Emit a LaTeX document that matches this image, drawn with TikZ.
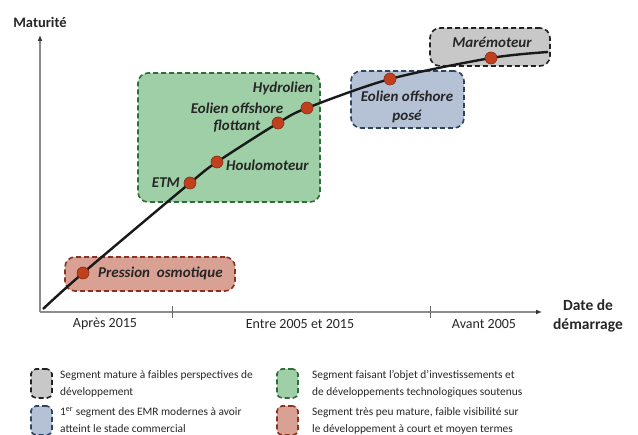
\documentclass[tikz,border=0pt]{standalone}
\usepackage{fontspec}
\setmainfont{Carlito}
\usetikzlibrary{arrows.meta}

\definecolor{segGray}{HTML}{C8C8C8}
\definecolor{segGrayLine}{HTML}{222222}
\definecolor{segGreen}{HTML}{9FCFA6}
\definecolor{segGreenLine}{HTML}{2E6E38}
\definecolor{segBlue}{HTML}{B5C1D5}
\definecolor{segBlueLine}{HTML}{2C4565}
\definecolor{segRed}{HTML}{D9A193}
\definecolor{segRedLine}{HTML}{8A3224}
\definecolor{dotRed}{HTML}{C0401E}

\begin{document}
\begin{tikzpicture}[
  x=1pt, y=-1pt,
  segbox/.style={rounded corners=10pt, line width=1.6pt, dash pattern=on 5pt off 3pt, inner sep=0pt},
  legbox/.style={segbox, rounded corners=5pt, minimum width=21pt, minimum height=29pt},
  axis/.style={line width=1.3pt, draw=black!45, -{Latex[length=6pt,width=5pt,color=black!80]}},
  dot/.style={circle, fill=dotRed, draw=dotRed!70!black, line width=0.6pt, minimum size=12pt, inner sep=0pt},
  tech/.style={font=\fontsize{15}{17}\selectfont\bfseries\itshape, text=black!85, inner sep=0pt, align=center},
  period/.style={font=\fontsize{14}{16}\selectfont, text=black!85, inner sep=0pt},
  legtext/.style={font=\fontsize{11.4}{17}\selectfont, text=black!85, anchor=west, align=left, inner sep=0pt},
]
  \useasboundingbox (0,0) rectangle (638,435);

  \node[segbox, fill=segGreen, draw=segGreenLine, minimum width=182pt, minimum height=129pt] (green) at (229,137.5) {};
  \node[segbox, fill=segBlue, draw=segBlueLine, minimum width=113pt, minimum height=57pt] (blue) at (407.5,99.5) {};
  \node[segbox, fill=segGray, draw=segGrayLine, minimum width=120pt, minimum height=38pt] (grey) at (490,47) {};
  \node[segbox, fill=segRed, draw=segRedLine, minimum width=170pt, minimum height=34pt] (red) at (150,274) {};

  \coordinate (origin) at (40,312);
  \coordinate (ytop) at (40,35);
  \coordinate (xend) at (542,312);
  \draw[axis] (origin) -- (ytop);
  \draw[axis] (origin) -- (xend);
  \draw[line width=1pt, black!60] (172,306) -- (172,318);
  \draw[line width=1pt, black!60] (430,306) -- (430,318);

  \node[font=\fontsize{14.5}{15}\selectfont\bfseries, text=black!85] (maturite) at (40,22) {Maturité};
  \node[font=\fontsize{15.5}{19}\selectfont\bfseries, text=black!85, align=center] (date) at (588,316) {Date de\\démarrage};
  \node[period] (apres) at (105,324) {Après 2015};
  \node[period] (entre) at (300,324) {Entre 2005 et 2015};
  \node[period] (avant) at (484,324) {Avant 2005};

  \coordinate (c0) at (43,309);
  \coordinate (cPress) at (83,273);
  \coordinate (cEtm) at (190,183);
  \coordinate (cHoul) at (217,162);
  \coordinate (cFlot) at (278,123);
  \coordinate (cHydr) at (307,108);
  \coordinate (cPose) at (390,79);
  \coordinate (cMare) at (491,58);
  \coordinate (c9) at (548,52);
  \draw[line width=2.4pt, black!90] plot[smooth, tension=0.5] coordinates {(c0) (cPress) (cEtm) (cHoul) (cFlot) (cHydr) (cPose) (cMare) (c9)};

  \node[dot] (press) at (cPress) {};
  \node[dot] (etm) at (cEtm) {};
  \node[dot] (houl) at (cHoul) {};
  \node[dot] (flot) at (cFlot) {};
  \node[dot] (hydr) at (cHydr) {};
  \node[dot] (pose) at (cPose) {};
  \node[dot] (mare) at (cMare) {};

  \node[tech, anchor=west] (lPress) at (98,273) {Pression\ \ osmotique};
  \node[tech, anchor=east] (lEtm) at (180,183) {ETM};
  \node[tech, anchor=west] (lHoul) at (226,165) {Houlomoteur};
  \node[tech] (lFlot) at (237,118) {Eolien offshore\\flottant};
  \node[tech] (lHydr) at (283,88) {Hydrolien};
  \node[tech, font=\fontsize{15}{19}\selectfont\bfseries\itshape] (lPose) at (407,107) {Eolien offshore\\posé};
  \node[tech] (lMare) at (492,42) {Marémoteur};

  \node[legbox, fill=segGray, draw=segGrayLine] (kGrey) at (41.5,383.5) {};
  \node[legtext] (tGrey) at (60,383.5) {Segment mature à faibles perspectives de\\développement};
  \node[legbox, fill=segBlue, draw=segBlueLine] (kBlue) at (41.5,420.5) {};
  \node[legtext] (tBlue) at (60,420.5) {1\textsuperscript{er} segment des EMR modernes à avoir\\atteint le stade commercial};
  \node[legbox, fill=segGreen, draw=segGreenLine] (kGreen) at (287.5,383.5) {};
  \node[legtext] (tGreen) at (312,383.5) {Segment faisant l’objet d’investissements et\\de développements technologiques soutenus};
  \node[legbox, fill=segRed, draw=segRedLine] (kRed) at (287.5,420.5) {};
  \node[legtext] (tRed) at (312,420.5) {Segment très peu mature, faible visibilité sur\\le développement à court et moyen termes};
\end{tikzpicture}
\end{document}
